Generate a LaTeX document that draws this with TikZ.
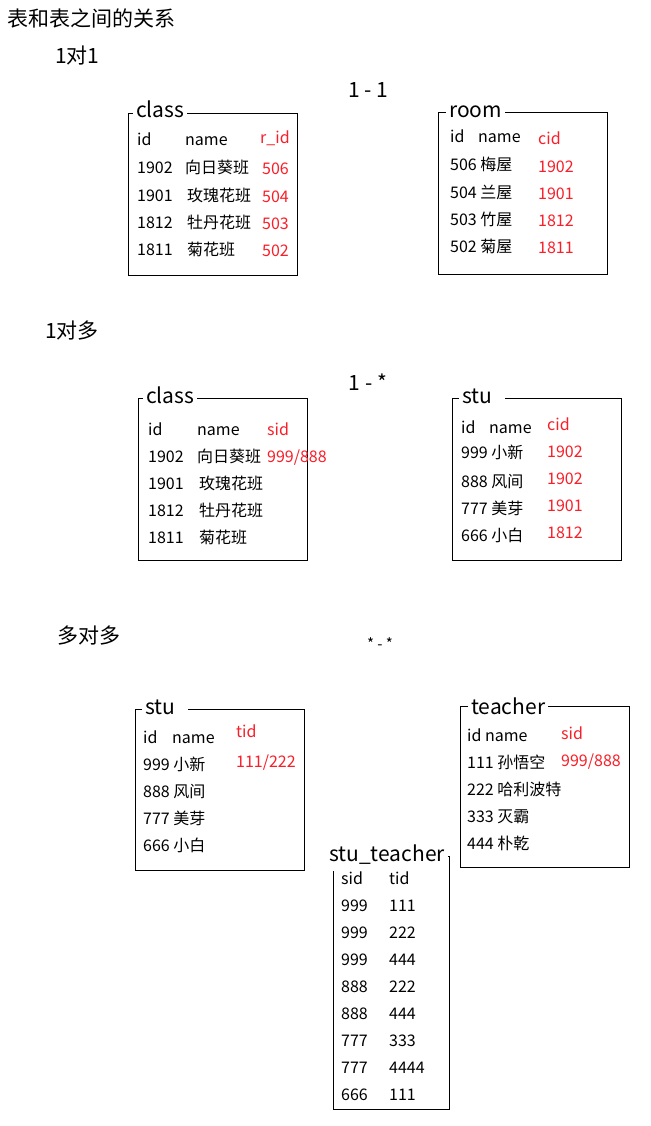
\documentclass[tikz,border=0pt]{standalone}
\usepackage{fontspec}
\usepackage{xcolor}
\usepackage{tikz}
\newfontfamily\cjk{Noto Sans CJK SC}
\definecolor{fkred}{RGB}{250,30,40}

\begin{document}
\begin{tikzpicture}[x=1pt, y=-1pt,
  box/.style={line width=1pt},
  cell/.style={anchor=base west, inner sep=0pt, font=\cjk\fontsize{16}{19}\selectfont},
  key/.style={cell, text=fkred},
  tname/.style={anchor=base west, fill=white, inner xsep=3pt, inner ysep=2pt, font=\cjk\fontsize{21}{24}\selectfont},
  head/.style={anchor=base west, inner sep=0pt, font=\cjk\fontsize{21}{25}\selectfont},
  rel/.style={anchor=base, inner sep=0pt, font=\cjk\fontsize{21}{25}\selectfont}]

\useasboundingbox[fill=white] (0,0) rectangle (650,1126);

\node[head] (hd) at (7,27) {表和表之间的关系};

% 1 to 1
\node[head] (one) at (55,64) {1对1};
\node[rel] (rela) at (368,98) {1 - 1};

\draw [box] (128,114) rectangle (297,275);
\node[tname] (cls1) at (133,118) {class};
\node[cell] (cls1id) at (137,146) {id};
\node[cell] (cls1nm) at (185,146) {name};
\node[key] (cls1fk) at (260,144) {r\_id};
\node[cell] (cls1a) at (137,174) {1902};
\node[cell] (cls1b) at (137,201) {1901};
\node[cell] (cls1c) at (137,228) {1812};
\node[cell] (cls1d) at (137,255) {1811};
\node[cell] (cls1an) at (185,174) {向日葵班};
\node[cell] (cls1bn) at (187,201) {玫瑰花班};
\node[cell] (cls1cn) at (187,228) {牡丹花班};
\node[cell] (cls1dn) at (187,255) {菊花班};
\node[key] (cls1ak) at (262,175) {506};
\node[key] (cls1bk) at (262,202) {504};
\node[key] (cls1ck) at (262,229) {503};
\node[key] (cls1dk) at (262,256) {502};

\draw [box] (438,113) rectangle (607,274);
\node[tname] (room) at (446,118) {room};
\node[cell] (roomid) at (450,143) {id};
\node[cell] (roomnm) at (478,143) {name};
\node[key] (roomfk) at (538,145) {cid};
\node[cell] (rooma) at (450,171) {506 梅屋};
\node[cell] (roomb) at (450,198) {504 兰屋};
\node[cell] (roomc) at (450,225) {503 竹屋};
\node[cell] (roomd) at (450,252) {502 菊屋};
\node[key] (roomak) at (538,172) {1902};
\node[key] (roombk) at (538,199) {1901};
\node[key] (roomck) at (538,226) {1812};
\node[key] (roomdk) at (538,253) {1811};

% 1 to many
\node[head] (many) at (45,338) {1对多};
\node[rel] (relb) at (368,390) {1 - *};

\draw [box] (138,398) rectangle (307,560);
\node[tname] (cls2) at (143,403) {class};
\node[cell] (cls2id) at (148,435) {id};
\node[cell] (cls2nm) at (197,435) {name};
\node[key] (cls2fk) at (267,435) {sid};
\node[cell] (cls2a) at (148,462) {1902};
\node[cell] (cls2b) at (148,489) {1901};
\node[cell] (cls2c) at (148,516) {1812};
\node[cell] (cls2d) at (148,543) {1811};
\node[cell] (cls2an) at (197,462) {向日葵班};
\node[cell] (cls2bn) at (199,489) {玫瑰花班};
\node[cell] (cls2cn) at (199,516) {牡丹花班};
\node[cell] (cls2dn) at (199,543) {菊花班};
\node[key] (cls2ak) at (267,462) {999/888};

\draw [box] (452,398) rectangle (621,560);
\node[tname] (stu1) at (459,403) {stu\hspace*{10pt}};
\node[cell] (stu1id) at (461,433) {id};
\node[cell] (stu1nm) at (489,433) {name};
\node[key] (stu1fk) at (547,430) {cid};
\node[cell] (stu1a) at (461,458) {999 小新};
\node[cell] (stu1b) at (461,487) {888 风间};
\node[cell] (stu1c) at (461,514) {777 美芽};
\node[cell] (stu1d) at (461,541) {666 小白};
\node[key] (stu1ak) at (547,457) {1902};
\node[key] (stu1bk) at (547,484) {1902};
\node[key] (stu1ck) at (547,511) {1901};
\node[key] (stu1dk) at (547,538) {1812};

% many to many
\node[head] (mm) at (57,643) {多对多};
\node[rel, font=\cjk\fontsize{15}{17}\selectfont] (relc) at (380,649) {* - *};

\draw [box] (135,709) rectangle (304,870);
\node[tname] (stu2) at (142,714) {stu\hspace*{10pt}};
\node[cell] (stu2id) at (143,743) {id};
\node[cell] (stu2nm) at (172,743) {name};
\node[key] (stu2fk) at (236,737) {tid};
\node[cell] (stu2a) at (143,770) {999 小新};
\node[cell] (stu2b) at (143,797) {888 风间};
\node[cell] (stu2c) at (143,824) {777 美芽};
\node[cell] (stu2d) at (143,851) {666 小白};
\node[key] (stu2ak) at (236,767) {111/222};

\draw [box] (460,706) rectangle (629,867);
\node[tname] (tch) at (468,714) {teacher};
\node[cell] (tchid) at (467,741) {id name};
\node[key] (tchfk) at (561,739) {sid};
\node[cell] (tcha) at (467,768) {111 孙悟空};
\node[cell] (tchb) at (467,795) {222 哈利波特};
\node[cell] (tchc) at (467,822) {333 灭霸};
\node[cell] (tchd) at (467,849) {444 朴乾};
\node[key] (tchak) at (561,766) {999/888};

\draw [box] (333,871) -- (333,1109) -- (449,1109) -- (449,856) -- (444,856);
\node[tname] (st) at (326,861) {stu\_teacher};
\node[cell] (stsid) at (341,884) {sid};
\node[cell] (sttid) at (389,884) {tid};
\node[cell] (st1) at (341,911) {999};
\node[cell] (st2) at (341,938) {999};
\node[cell] (st3) at (341,965) {999};
\node[cell] (st4) at (341,992) {888};
\node[cell] (st5) at (341,1019) {888};
\node[cell] (st6) at (341,1046) {777};
\node[cell] (st7) at (341,1073) {777};
\node[cell] (st8) at (341,1100) {666};
\node[cell] (st1t) at (389,911) {111};
\node[cell] (st2t) at (389,938) {222};
\node[cell] (st3t) at (389,965) {444};
\node[cell] (st4t) at (389,992) {222};
\node[cell] (st5t) at (389,1019) {444};
\node[cell] (st6t) at (389,1046) {333};
\node[cell] (st7t) at (389,1073) {4444};
\node[cell] (st8t) at (389,1100) {111};

\end{tikzpicture}
\end{document}
